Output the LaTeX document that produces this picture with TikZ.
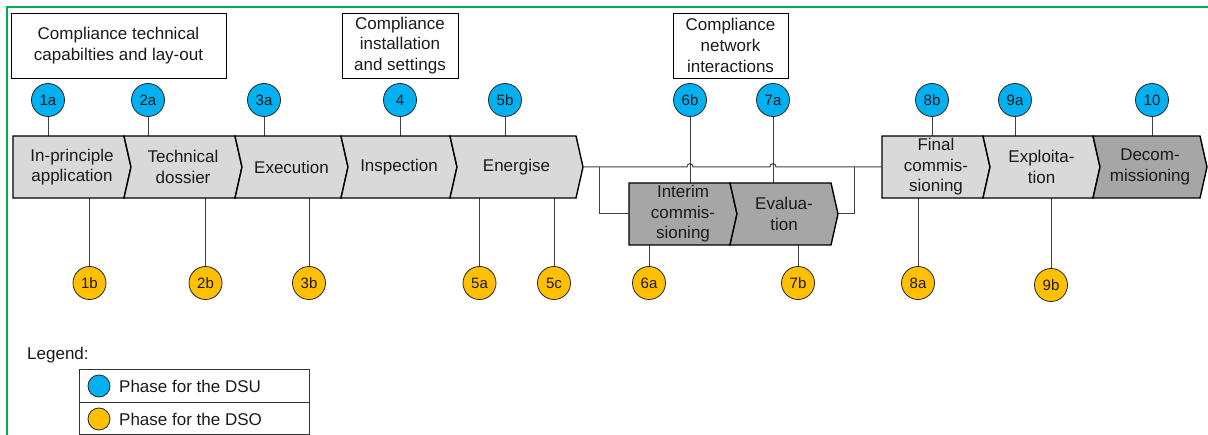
\documentclass[tikz,border=0pt]{standalone}
\usepackage{fontspec}
\setmainfont{Liberation Sans}
\usetikzlibrary{calc}
\definecolor{dsu}{HTML}{00B0F0}
\definecolor{dso}{HTML}{FFC000}
\definecolor{frameg}{HTML}{00B050}
\definecolor{chevlight}{HTML}{D9D9D9}
\definecolor{chevdark}{HTML}{A6A6A6}
\definecolor{wire}{HTML}{404040}
\definecolor{txt}{HTML}{1A1A1A}
\tikzset{
  chev/.style={draw=black, line width=1.4pt, line join=miter},
  chevtext/.style={align=center, inner sep=0pt, text=txt, font=\fontsize{17}{20.6}\selectfont},
  cbox/.style={draw=black, line width=0.9pt, fill=white, align=center, inner sep=0pt, text=txt, font=\fontsize{17}{20.6}\selectfont},
  phase/.style={circle, draw=black!85, line width=0.8pt, minimum size=33pt, inner sep=0pt, text=txt, font=\fontsize{15}{17}\selectfont},
  dsuc/.style={phase, fill=dsu},
  dsoc/.style={phase, fill=dso},
  wireline/.style={draw=wire, line width=1pt},
  legtext/.style={anchor=west, inner sep=0pt, text=txt, font=\fontsize{17}{20}\selectfont}
}
% #1 name, #2 left x, #3 right x (top edge), #4 top y, #5 bottom y, #6 notch depth, #7 fill, #8 text
\newcommand{\chevbox}[8]{%
  \draw[chev, fill=#7] (#2,#4) -- (#3,#4) -- ({#3+7},{(#4+#5)/2}) -- (#3,#5) -- (#2,#5) -- ({#2+#6},{(#4+#5)/2}) -- cycle;
  \coordinate (#1-tip) at ({#3+7},{(#4+#5)/2});
  \coordinate (#1-in) at ({#2+#6},{(#4+#5)/2});
  \node[chevtext] (#1) at ({(#2+#3+7)/2},{(#4+#5)/2}) {#8};
}
\begin{document}
\begin{tikzpicture}[x=1pt,y=-1pt]
\clip (0,0) rectangle (1208,435);
\fill[white] (0,0) rectangle (1208,435);
% frame
\draw[frameg, line width=2pt] (7,440) -- (7,7) -- (1215,7);

% reference levels
\coordinate (rowtop) at (0,136);
\coordinate (rowbot) at (0,198);
\coordinate (itop) at (0,183);
\coordinate (ibot) at (0,245);

% compliance boxes
\node[cbox, minimum width=215pt, minimum height=65pt] (b1) at (118.5,45.5) {Compliance technical\\capabilties and lay-out};
\node[cbox, minimum width=116pt, minimum height=65pt] (b2) at (400,45.5) {Compliance\\installation\\and settings};
\node[cbox, minimum width=115pt, minimum height=65pt] (b3) at (730.5,45.5) {Compliance\\network\\interactions};

% phase circles DSU
\node[dsuc] (c1a) at (48,100) {1a};
\node[dsuc] (c2a) at (148,100) {2a};
\node[dsuc] (c3a) at (264,100) {3a};
\node[dsuc] (c4) at (400,100) {4};
\node[dsuc] (c5b) at (505,100) {5b};
\node[dsuc] (c6b) at (690,100) {6b};
\node[dsuc] (c7a) at (773,100) {7a};
\node[dsuc] (c8b) at (932,100) {8b};
\node[dsuc] (c9a) at (1015,100) {9a};
\node[dsuc] (c10) at (1152,100) {10};

% phase circles DSO
\node[dsoc] (c1b) at (89.5,283) {1b};
\node[dsoc] (c2b) at (205.5,283) {2b};
\node[dsoc] (c3b) at (309,283) {3b};
\node[dsoc] (c5a) at (479.5,283) {5a};
\node[dsoc] (c5c) at (554,283) {5c};
\node[dsoc] (c6a) at (649,283) {6a};
\node[dsoc] (c7b) at (798,283) {7b};
\node[dsoc] (c8a) at (918,283) {8a};
\node[dsoc] (c9b) at (1051,285) {9b};

% connectors from circles
\foreach \c in {c1a,c2a,c3a,c4,c5b,c8b,c9a,c10}{
  \draw[wireline] (\c) -- (\c |- rowtop);
}
\foreach \c in {c6b,c7a}{
  \draw[wireline] (\c) -- (\c |- itop);
}
\foreach \c in {c1b,c2b,c3b,c5a,c5c,c8a,c9b}{
  \draw[wireline] (\c) -- (\c |- rowbot);
}
\foreach \c in {c6a,c7b}{
  \draw[wireline] (\c) -- (\c |- ibot);
}

% main row
\chevbox{inprin}{13}{124}{136}{198}{0}{chevlight}{In-principle\\application}
\chevbox{techdos}{124}{235}{136}{198}{7}{chevlight}{Technical\\dossier}
\chevbox{exec}{235}{341}{136}{198}{7}{chevlight}{Execution}
\chevbox{insp}{341}{450}{136}{198}{7}{chevlight}{Inspection}
\chevbox{energ}{450}{576}{136}{198}{7}{chevlight}{Energise}

% interim row
\chevbox{interim}{629}{730}{183}{245}{0}{chevdark}{Interim\\commis-\\sioning}
\chevbox{evalu}{730}{831}{183}{245}{7}{chevdark}{Evalua-\\tion}

% final row
\chevbox{final}{882}{983}{136}{198}{0}{chevlight}{Final\\commis-\\sioning}
\chevbox{exploit}{983}{1093}{136}{198}{7}{chevlight}{Exploita-\\tion}
\chevbox{decom}{1093}{1200}{136}{198}{7}{chevdark}{Decom-\\missioning}

% bypass line with jumps
\coordinate (j1) at (690,167);
\coordinate (j2) at (773,167);
\coordinate (bl) at (599,167);
\coordinate (br) at (854,167);
\draw[wireline] (energ-tip) -- ($(j1)+(-3,0)$) .. controls ($(j1)+(-3,-4.5)$) and ($(j1)+(3,-4.5)$) .. ($(j1)+(3,0)$)
  -- ($(j2)+(-3,0)$) .. controls ($(j2)+(-3,-4.5)$) and ($(j2)+(3,-4.5)$) .. ($(j2)+(3,0)$) -- (final-in);
\draw[wireline] (bl) -- (bl |- interim-in) -- (interim-in);
\draw[wireline] (evalu-tip) -- (br |- evalu-tip) -- (br);

% legend
\node[legtext] (leg) at (27,355) {Legend:};
\draw[draw=black!80, line width=0.9pt] (79,369) rectangle (309,434);
\draw[draw=black!80, line width=0.9pt] (79,402) -- (309,402);
\node[circle, draw=black!85, line width=0.8pt, fill=dsu, minimum size=22pt, inner sep=0pt] (ldsu) at (99,386) {};
\node[circle, draw=black!85, line width=0.8pt, fill=dso, minimum size=22pt, inner sep=0pt] (ldso) at (99,419) {};
\node[legtext] (tdsu) at (119,386) {Phase for the DSU};
\node[legtext] (tdso) at (119,419) {Phase for the DSO};
\end{tikzpicture}
\end{document}
